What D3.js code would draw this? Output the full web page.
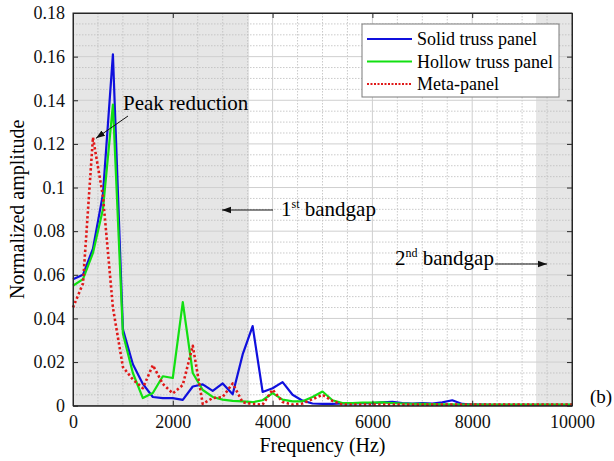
<!DOCTYPE html>
<html>
<head>
<meta charset="utf-8">
<script src="https://cdn.jsdelivr.net/npm/d3@7"></script>
<style>
  body { margin: 0; background: #fff; }
</style>
</head>
<body>
<svg id="chart" width="614" height="461"></svg>
<script>
// frequency samples (Hz)
var freq = [0, 200, 400, 600, 800, 1000, 1200, 1400, 1600, 1800,
  2000, 2200, 2400, 2600, 2800, 3000, 3200, 3400, 3600, 3800,
  4000, 4200, 4400, 4600, 4800, 5000, 5200, 5400, 5600, 5800,
  6000, 6200, 6400, 6600, 6800, 7000, 7200, 7400, 7600, 7800,
  8000, 8200, 8400, 8600, 8800, 9000, 9200, 9400, 9600, 9800, 10000];

var solidTruss = [0.058, 0.060, 0.072, 0.097, 0.161, 0.035, 0.019, 0.010, 0.004, 0.0035,
  0.0035, 0.0027, 0.0088, 0.0098, 0.0068, 0.0102, 0.0052, 0.0235, 0.0365, 0.0063,
  0.008, 0.0108, 0.005, 0.0023, 0.001, 0.0008, 0.0008, 0.001, 0.001, 0.0012,
  0.0012, 0.0015, 0.0018, 0.0012, 0.001, 0.0012, 0.001, 0.0015, 0.0025, 0.0008,
  0.0005, 0.0005, 0.0004, 0.0004, 0.0004, 0.0004, 0.0004, 0.0004, 0.0004, 0.0004, 0.0004];

var hollowTruss = [0.055, 0.058, 0.070, 0.090, 0.138, 0.033, 0.015, 0.0035, 0.0058, 0.0135,
  0.0127, 0.0475, 0.015, 0.0072, 0.004, 0.0028, 0.0022, 0.002, 0.0016, 0.0025,
  0.0058, 0.0028, 0.002, 0.002, 0.004, 0.0065, 0.0025, 0.0012, 0.0012, 0.0014,
  0.0014, 0.0015, 0.0012, 0.001, 0.0009, 0.0008, 0.0007, 0.0006, 0.0006, 0.0005,
  0.0005, 0.0005, 0.0005, 0.0005, 0.0005, 0.0005, 0.0005, 0.0005, 0.0005, 0.0005, 0.0005];

var metaPanel = [0.045, 0.056, 0.123, 0.096, 0.045, 0.0177, 0.012, 0.008, 0.0186, 0.010,
  0.0056, 0.0095, 0.0275, 0.0008, 0.0035, 0.004, 0.0102, 0.0015, 0.0008, 0.0005,
  0.0074, 0.0017, 0.0005, 0.001, 0.003, 0.005, 0.0022, 0.0005, 0.0005, 0.0005,
  0.0005, 0.0005, 0.0005, 0.0005, 0.0005, 0.0005, 0.0005, 0.0005, 0.0005, 0.0005,
  0.0005, 0.0005, 0.0005, 0.0005, 0.0005, 0.0005, 0.0005, 0.0005, 0.0005, 0.0005, 0.0005];

var seriesNames = ["Solid truss panel", "Hollow truss panel", "Meta-panel"];
var seriesColors = ["#1010dd", "#12e012", "#e01818"];

// bandgap ranges (Hz)
var bandgaps = [[0, 3530], [9280, 10000]];

var xTicks = [0, 2000, 4000, 6000, 8000, 10000];
var yTicks = [0, 0.02, 0.04, 0.06, 0.08, 0.1, 0.12, 0.14, 0.16, 0.18];

var svg = d3.select("#chart");
var plotL = 73, plotR = 572, plotT = 13, plotB = 405.7;

var x = d3.scaleLinear().domain([0, 10000]).range([plotL, plotR]);
var y = d3.scaleLinear().domain([0, 0.18]).range([plotB, plotT]);

svg.append("defs").append("marker")
  .attr("id", "arrow")
  .attr("viewBox", "0 0 10 10")
  .attr("refX", 10).attr("refY", 5)
  .attr("markerWidth", 9).attr("markerHeight", 9)
  .attr("markerUnits", "userSpaceOnUse")
  .attr("orient", "auto")
  .append("path")
  .attr("d", "M0,1.5 L10,5 L0,8.5 Z")
  .attr("fill", "#111");

// shaded bandgaps
svg.selectAll("rect.band")
  .data(bandgaps)
  .enter().append("rect")
  .attr("class", "band")
  .attr("x", d => x(d[0]))
  .attr("width", d => x(d[1]) - x(d[0]))
  .attr("y", plotT)
  .attr("height", plotB - plotT)
  .attr("fill", "#e6e6e6");

// minor grid
var grid = svg.append("g");
grid.selectAll("line.mx")
  .data(d3.range(500, 10000, 500).filter(v => v % 2000 != 0))
  .enter().append("line")
  .attr("x1", d => x(d)).attr("x2", d => x(d))
  .attr("y1", plotT).attr("y2", plotB)
  .attr("stroke", "#bdbdbd").attr("stroke-width", 0.8)
  .attr("stroke-dasharray", "1.5,1.5");
grid.selectAll("line.my")
  .data(d3.range(1, 36).map(i => i * 0.005).filter((v, i) => (i + 1) % 4 != 0))
  .enter().append("line")
  .attr("y1", d => y(d)).attr("y2", d => y(d))
  .attr("x1", plotL).attr("x2", plotR)
  .attr("stroke", "#bdbdbd").attr("stroke-width", 0.8)
  .attr("stroke-dasharray", "1.5,1.5");

// major grid
grid.selectAll("line.gx")
  .data(xTicks.slice(1, -1))
  .enter().append("line")
  .attr("x1", d => x(d)).attr("x2", d => x(d))
  .attr("y1", plotT).attr("y2", plotB)
  .attr("stroke", "#cfcfcf").attr("stroke-width", 1);
grid.selectAll("line.gy")
  .data(yTicks.slice(1, -1))
  .enter().append("line")
  .attr("y1", d => y(d)).attr("y2", d => y(d))
  .attr("x1", plotL).attr("x2", plotR)
  .attr("stroke", "#cfcfcf").attr("stroke-width", 1);

// curves
var series = [solidTruss, hollowTruss, metaPanel];
var line = d3.line()
  .x((d, i) => x(freq[i]))
  .y(d => y(d));

series.forEach(function(vals, k) {
  svg.append("path")
    .datum(vals)
    .attr("d", line)
    .attr("fill", "none")
    .attr("stroke", seriesColors[k])
    .attr("stroke-width", k == 2 ? 2.6 : 2.2)
    .attr("stroke-linejoin", "round")
    .attr("stroke-dasharray", k == 2 ? "2.4,2.4" : null);
});

// axes (ticks inward, box)
svg.append("g")
  .attr("transform", "translate(0," + plotB + ")")
  .call(d3.axisBottom(x).tickValues(xTicks).tickSizeInner(-5).tickSizeOuter(0).tickPadding(10).tickFormat(d3.format("d")));
svg.append("g")
  .attr("transform", "translate(" + plotL + ",0)")
  .call(d3.axisLeft(y).tickValues(yTicks).tickSizeInner(-5).tickSizeOuter(0).tickPadding(8).tickFormat(d => d == 0 ? "0" : d3.format(".2~f")(d)));
svg.append("g")
  .attr("transform", "translate(0," + plotT + ")")
  .call(d3.axisTop(x).tickValues(xTicks).tickSizeInner(-5).tickSizeOuter(0).tickFormat(""));
svg.append("g")
  .attr("transform", "translate(" + plotR + ",0)")
  .call(d3.axisRight(y).tickValues(yTicks).tickSizeInner(-5).tickSizeOuter(0).tickFormat(""));

svg.selectAll(".domain").attr("stroke", "#262626");
svg.selectAll(".tick line").attr("stroke", "#262626");
svg.selectAll(".tick text")
  .attr("font-size", 18)
  .attr("fill", "#111");

svg.append("rect")
  .attr("x", plotL).attr("y", plotT)
  .attr("width", plotR - plotL).attr("height", plotB - plotT)
  .attr("fill", "none").attr("stroke", "#262626").attr("stroke-width", 1);

// axis labels
svg.append("text")
  .attr("x", (plotL + plotR) / 2).attr("y", 452)
  .attr("text-anchor", "middle")
  .attr("font-size", 20)
  .text("Frequency (Hz)");
svg.append("text")
  .attr("transform", "translate(24," + ((plotT + plotB) / 2) + ") rotate(-90)")
  .attr("text-anchor", "middle")
  .attr("font-size", 20)
  .text("Normalized amplitude");

svg.append("text")
  .attr("x", 590).attr("y", 403)
  .attr("font-size", 19)
  .text("(b)");

// annotations
svg.append("line")
  .attr("x1", 128).attr("y1", 116)
  .attr("x2", x(400) + 3).attr("y2", y(0.123) + 1)
  .attr("stroke", "#111").attr("stroke-width", 1)
  .attr("marker-end", "url(#arrow)");
svg.append("text")
  .attr("x", 123).attr("y", 110)
  .attr("font-size", 21)
  .text("Peak reduction");

svg.append("line")
  .attr("x1", 273).attr("y1", 210)
  .attr("x2", 222).attr("y2", 210)
  .attr("stroke", "#111").attr("stroke-width", 1)
  .attr("marker-end", "url(#arrow)");
var t1 = svg.append("text").attr("x", 281).attr("y", 216).attr("font-size", 21);
t1.append("tspan").text("1");
t1.append("tspan").attr("font-size", 12).attr("dy", -8).text("st");
t1.append("tspan").attr("dy", 8).text(" bandgap");

var t2 = svg.append("text").attr("x", 395).attr("y", 265).attr("font-size", 21);
t2.append("tspan").text("2");
t2.append("tspan").attr("font-size", 12).attr("dy", -8).text("nd");
t2.append("tspan").attr("dy", 8).text(" bandgap");
svg.append("line")
  .attr("x1", 495).attr("y1", 264)
  .attr("x2", 547).attr("y2", 264)
  .attr("stroke", "#111").attr("stroke-width", 1)
  .attr("marker-end", "url(#arrow)");

// legend
var lg = svg.append("g").attr("transform", "translate(362,24)");
lg.append("rect")
  .attr("width", 197).attr("height", 73)
  .attr("fill", "#fff").attr("stroke", "#7a7a7a").attr("stroke-width", 1);
seriesNames.forEach(function(name, k) {
  var yy = 15 + k * 22.5;
  lg.append("line")
    .attr("x1", 5).attr("x2", 50)
    .attr("y1", yy).attr("y2", yy)
    .attr("stroke", seriesColors[k])
    .attr("stroke-width", k == 2 ? 2.2 : 2)
    .attr("stroke-dasharray", k == 2 ? "2,1.5" : null);
  lg.append("text")
    .attr("x", 55).attr("y", yy + 6)
    .attr("font-size", 18)
    .text(name);
});

svg.selectAll("text").style("font-family", "'Liberation Serif'");
</script>
</body>
</html>
